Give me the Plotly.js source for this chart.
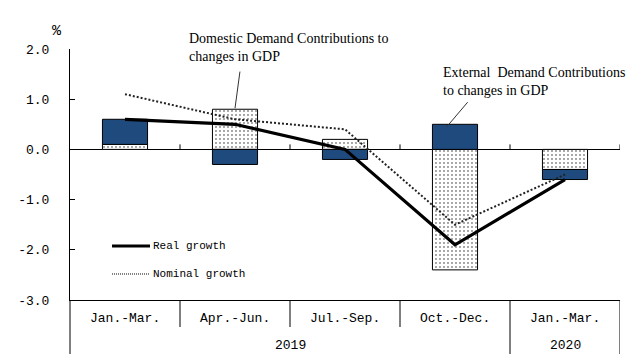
<!DOCTYPE html>
<html>
<head>
<meta charset="utf-8">
<script src="https://cdn.plot.ly/plotly-3.0.1.min.js"></script>
<style>html,body{margin:0;padding:0;background:#fff;}#chart{width:630px;height:364px;}</style>
</head>
<body>
<div id="chart"></div>
<script>
// ---- data ----
var quarters = ['Jan.-Mar.', 'Apr.-Jun.', 'Jul.-Sep.', 'Oct.-Dec.', 'Jan.-Mar.'];
var years = ['2019', '2019', '2019', '2019', '2020'];
var domestic = [0.1, 0.8, 0.2, -2.4, -0.4];
var external = [0.5, -0.3, -0.2, 0.5, -0.2];
var realGrowth = [0.6, 0.5, 0.0, -1.9, -0.6];
var nominalGrowth = [1.1, 0.6, 0.4, -1.5, -0.5];
var yTickVals = [-3, -2, -1, 0, 1, 2];
var yTickText = ['-3.0', '-2.0', '-1.0', '0.0', '1.0', '2.0'];
var yearGroups = ['2019', '2020'];

// unique category keys built from year + quarter
var cats = quarters.map(function (q, i) { return years[i] + ' ' + q; });

var MONO = 'Liberation Mono, DejaVu Sans Mono, monospace';
var SERIF = 'Liberation Serif, DejaVu Serif, serif';

var traces = [
  {
    type: 'bar', x: cats, y: domestic, name: 'Domestic',
    marker: {
      color: 'white',
      line: {color: 'black', width: 1},
      pattern: {shape: '.', size: 4, solidity: 0.08, fgcolor: 'black', bgcolor: 'white'}
    },
    hoverinfo: 'skip'
  },
  {
    type: 'bar', x: cats, y: external, name: 'External',
    marker: {color: '#1f4a7e', line: {color: 'black', width: 1}},
    hoverinfo: 'skip'
  },
  {
    type: 'scatter', mode: 'lines', x: cats, y: nominalGrowth, name: 'Nominal growth',
    line: {color: '#222', width: 2, dash: '2px,2px'}
  },
  {
    type: 'scatter', mode: 'lines', x: cats, y: realGrowth, name: 'Real growth',
    line: {color: 'black', width: 3.2}
  }
];

var shapes = [];
// small tick marks on the zero line at category boundaries
for (var i = 0; i < cats.length; i++) {
  shapes.push({type: 'line', xref: 'x', yref: 'y', ysizemode: 'pixel', yanchor: 0,
    x0: i + 0.5, x1: i + 0.5, y0: 0, y1: 5, line: {color: 'black', width: 1}});
}
// left axis extension through the label table
shapes.push({type: 'line', xref: 'paper', yref: 'paper', ysizemode: 'pixel', yanchor: 0,
  x0: 0, x1: 0, y0: 0, y1: -54, line: {color: 'black', width: 1}});
// dividers between quarters (within a year) and between years
for (var j = 0; j < cats.length; j++) {
  var lastOfGroup = (j === cats.length - 1) || (years[j] !== years[j + 1]);
  shapes.push({type: 'line', xref: 'x', yref: 'paper', ysizemode: 'pixel', yanchor: 0,
    x0: j + 0.5, x1: j + 0.5, y0: 0, y1: lastOfGroup ? -54 : -27,
    line: {color: 'black', width: 1}});
}
// leader lines of the callouts
shapes.push({type: 'line', xref: 'x', yref: 'y', x0: 1.045, y0: 1.55, x1: 1.0, y1: 0.82,
  line: {color: '#333', width: 1}});
shapes.push({type: 'line', xref: 'x', yref: 'y', x0: 3.115, y0: 0.94, x1: 2.925, y1: 0.45,
  line: {color: '#333', width: 1}});
// legend samples
shapes.push({type: 'line', xref: 'paper', yref: 'paper', x0: 0.0764, x1: 0.1455, y0: 0.2151, y1: 0.2151,
  line: {color: 'black', width: 3}});
shapes.push({type: 'line', xref: 'paper', yref: 'paper', x0: 0.0764, x1: 0.1455, y0: 0.1036, y1: 0.1036,
  line: {color: 'black', width: 1, dash: '1px,1px'}});

var annotations = [];
cats.forEach(function (c, i) {
  annotations.push({xref: 'x', yref: 'paper', x: c, y: 0, yshift: -18, yanchor: 'middle',
    text: quarters[i], showarrow: false, font: {family: MONO, size: 13, color: 'black'}});
});
yearGroups.forEach(function (yr) {
  var idx = [];
  years.forEach(function (y, k) { if (y === yr) idx.push(k); });
  var mid = (idx[0] + idx[idx.length - 1]) / 2;
  annotations.push({xref: 'x', yref: 'paper', x: mid, y: 0, yshift: -45, yanchor: 'middle',
    text: yr, showarrow: false, font: {family: MONO, size: 13, color: 'black'}});
});
annotations.push({xref: 'paper', yref: 'paper', x: 0, xshift: -20, y: 1, yshift: 28,
  text: '%', showarrow: false, font: {family: MONO, size: 15, color: 'black'}});
annotations.push({xref: 'paper', yref: 'paper', x: 0.2125, y: 1.006, xanchor: 'left', yanchor: 'middle',
  align: 'left', text: 'Domestic Demand Contributions to<br>changes in GDP', showarrow: false,
  font: {family: SERIF, size: 14, color: 'black'}});
annotations.push({xref: 'paper', yref: 'paper', x: 0.674, y: 0.8725, xanchor: 'left', yanchor: 'middle',
  align: 'left', text: 'External&nbsp;&nbsp;Demand Contributions<br>to changes in GDP', showarrow: false,
  font: {family: SERIF, size: 14, color: 'black'}});
annotations.push({xref: 'paper', yref: 'paper', x: 0.1473, y: 0.2151, xanchor: 'left', yanchor: 'middle',
  text: 'Real growth', showarrow: false, font: {family: MONO, size: 11, color: 'black'}});
annotations.push({xref: 'paper', yref: 'paper', x: 0.1473, y: 0.1036, xanchor: 'left', yanchor: 'middle',
  text: 'Nominal growth', showarrow: false, font: {family: MONO, size: 11, color: 'black'}});

var layout = {
  width: 630, height: 364,
  margin: {l: 70, r: 10, t: 49, b: 64},
  paper_bgcolor: 'white', plot_bgcolor: 'white',
  showlegend: false,
  barmode: 'relative', bargap: 0.59,
  xaxis: {
    type: 'category', categoryorder: 'array', categoryarray: cats,
    range: [-0.5, cats.length - 0.5],
    showline: true, linecolor: 'black', linewidth: 1,
    showticklabels: false, ticks: '', showgrid: false, zeroline: false, fixedrange: true
  },
  yaxis: {
    range: [-3, 2], tickvals: yTickVals, ticktext: yTickText,
    ticks: 'inside', ticklen: 5, tickcolor: 'black',
    showline: true, linecolor: 'black', linewidth: 1,
    showgrid: false, zeroline: true, zerolinecolor: 'black', zerolinewidth: 1,
    ticklabelstandoff: 17,
    tickfont: {family: MONO, size: 13, color: 'black'}, fixedrange: true
  },
  shapes: shapes,
  annotations: annotations
};

Plotly.newPlot('chart', traces, layout, {displayModeBar: false, staticPlot: true});
</script>
</body>
</html>
